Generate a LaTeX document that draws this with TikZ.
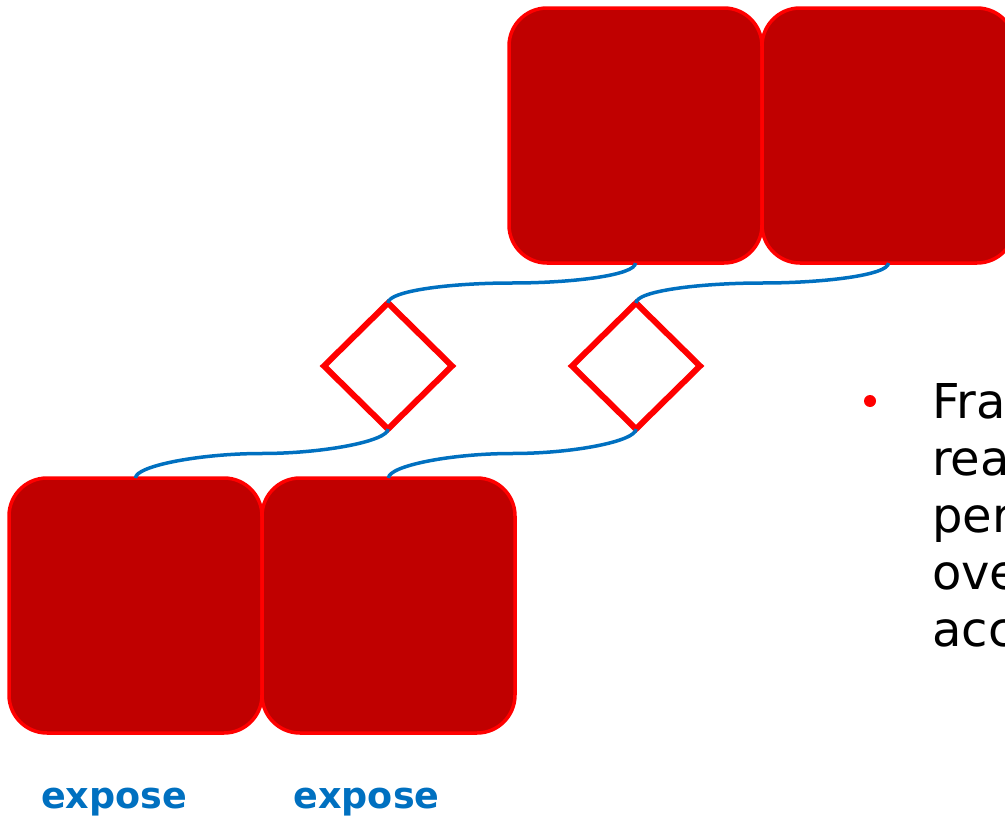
\documentclass[tikz,border=0pt]{standalone}
\usepackage{fontspec}
\setmainfont{DejaVu Sans}
\usepackage{tikz}
\usetikzlibrary{shapes.geometric,positioning,calc}
\definecolor{box_red}{RGB}{192,0,0}
\definecolor{edge_red}{RGB}{255,0,0}
\definecolor{link_blue}{RGB}{0,112,192}

\begin{document}
\begin{tikzpicture}[x=1pt,y=-1pt]
    \tikzstyle{framebox}=[draw=edge_red, line width=3.5pt, fill=box_red, rounded corners=38pt, minimum width=253pt, minimum height=255pt, inner sep=0pt, outer sep=0pt]
    \tikzstyle{fence}=[draw=edge_red, line width=6pt, diamond, minimum width=128pt, minimum height=126pt, inner sep=0pt, outer sep=0pt]
    \tikzstyle{wire}=[draw=link_blue, line width=3.5pt, to path={.. controls +(0,12) and +(62,0) .. ($(\tikztostart)!0.5!(\tikztotarget)$) .. controls +(-62,0) and +(0,-12) .. (\tikztotarget)}]
    \tikzstyle{stagelabel}=[text=link_blue, anchor=base, inner sep=0pt, font=\bfseries\fontsize{36.5}{40}\selectfont]
    \tikzstyle{body}=[anchor=base west, inner sep=0pt, font=\fontsize{48}{57}\selectfont]

    \useasboundingbox (0,0) rectangle (1005,819);
    \clip (0,0) rectangle (1005,819);

    \node[framebox] (topL) at (635.5,135.5) {};
    \node[framebox, right=0pt of topL] (topR) {};
    \node[fence] (fenceL) at (388,366) {};
    \node[fence] (fenceR) at (636,366) {};
    \node[framebox] (botL) at (135.5,605.5) {};
    \node[framebox, right=0pt of botL] (botR) {};
    \path
     (topL.south)   edge[wire] (fenceL.north)
     (topR.south)   edge[wire] (fenceR.north)
     (fenceL.south) edge[wire] (botL.north)
     (fenceR.south) edge[wire] (botR.north)
     ;

    \node[stagelabel] (exposeL) at (114,808)   {expose};
    \node[stagelabel] (exposeR) at (366.5,808) {expose};

    % bullet text, cut off at the right
    \node[circle, fill=edge_red, minimum size=12pt, inner sep=0pt] (bullet) at (870,401) {};
    \foreach \w [count=\i] in {Fra,rea,per,ove,acc}
      \node[body] (line\i) at (932,{418+57*(\i-1)}) {\w};
\end{tikzpicture}
\end{document}
